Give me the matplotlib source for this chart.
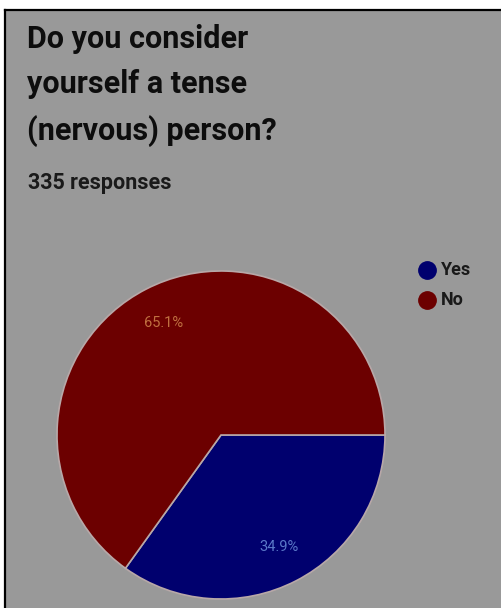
import matplotlib.pyplot as plt
from matplotlib.lines import Line2D
from matplotlib.patches import Rectangle

# survey answers
labels = ["Yes", "No"]
shares = [34.9, 65.1]
colors = ["#00006e", "#6c0000"]
pct_colors = ["#5a78c8", "#c07040"]

title = "Do you consider\nyourself a tense\n(nervous) person?"
subtitle = "335 responses"

W, H = 501, 608
fig = plt.figure(figsize=(W / 100, H / 100), dpi=100)
fig.patch.set_facecolor("white")

# grey card with a dark frame on the top and left
px = lambda x, y: (x / W, 1 - y / H)
fig.add_artist(Rectangle(px(5, H), 1, 1 - 10 / H, transform=fig.transFigure,
                         facecolor="#999999", edgecolor="none", zorder=0))
fig.add_artist(Line2D([5 / W, 1], [1 - 10 / H] * 2, color="black", lw=1.6))
fig.add_artist(Line2D([5 / W] * 2, [0, 1 - 10 / H], color="black", lw=1.6))

fig.text(27 / W, 1 - 24 / H, title, fontsize=22, fontfamily="Roboto",
         fontweight="bold", color="#0d0d0d", va="top", ha="left",
         linespacing=1.64)
fig.text(28 / W, 1 - 183 / H, subtitle, fontsize=15.5, fontfamily="Roboto",
         fontweight="bold", color="#1a1a1a", va="center", ha="left")

cx, cy, r = 221, 435, 164
ax = fig.add_axes([(cx - r) / W, (H - cy - r) / H, 2 * r / W, 2 * r / H])
ax.set_facecolor("none")
wedges, _, autotexts = ax.pie(
    shares, colors=colors, startangle=0, counterclock=False,
    autopct="%.1f%%", pctdistance=0.77,
    wedgeprops=dict(edgecolor="#b8a8a8", linewidth=1.2),
    textprops=dict(fontsize=10.5, fontfamily="Roboto"))
for t, c in zip(autotexts, pct_colors):
    t.set_color(c)
ax.set_xlim(-1, 1)
ax.set_ylim(-1, 1)
ax.set_aspect("equal")
ax.axis("off")

# legend on the right
for i, (lab, col) in enumerate(zip(labels, colors)):
    y = 270 + 30 * i
    fig.add_artist(Line2D([427 / W], [1 - y / H], marker="o", markersize=12.5,
                          color=col, lw=0))
    fig.text(441 / W, 1 - y / H, lab, fontsize=13, fontfamily="Roboto",
             fontweight="bold", color="#1a1a1a", va="center", ha="left")

fig.savefig("out.png", dpi=100, facecolor=fig.get_facecolor())
